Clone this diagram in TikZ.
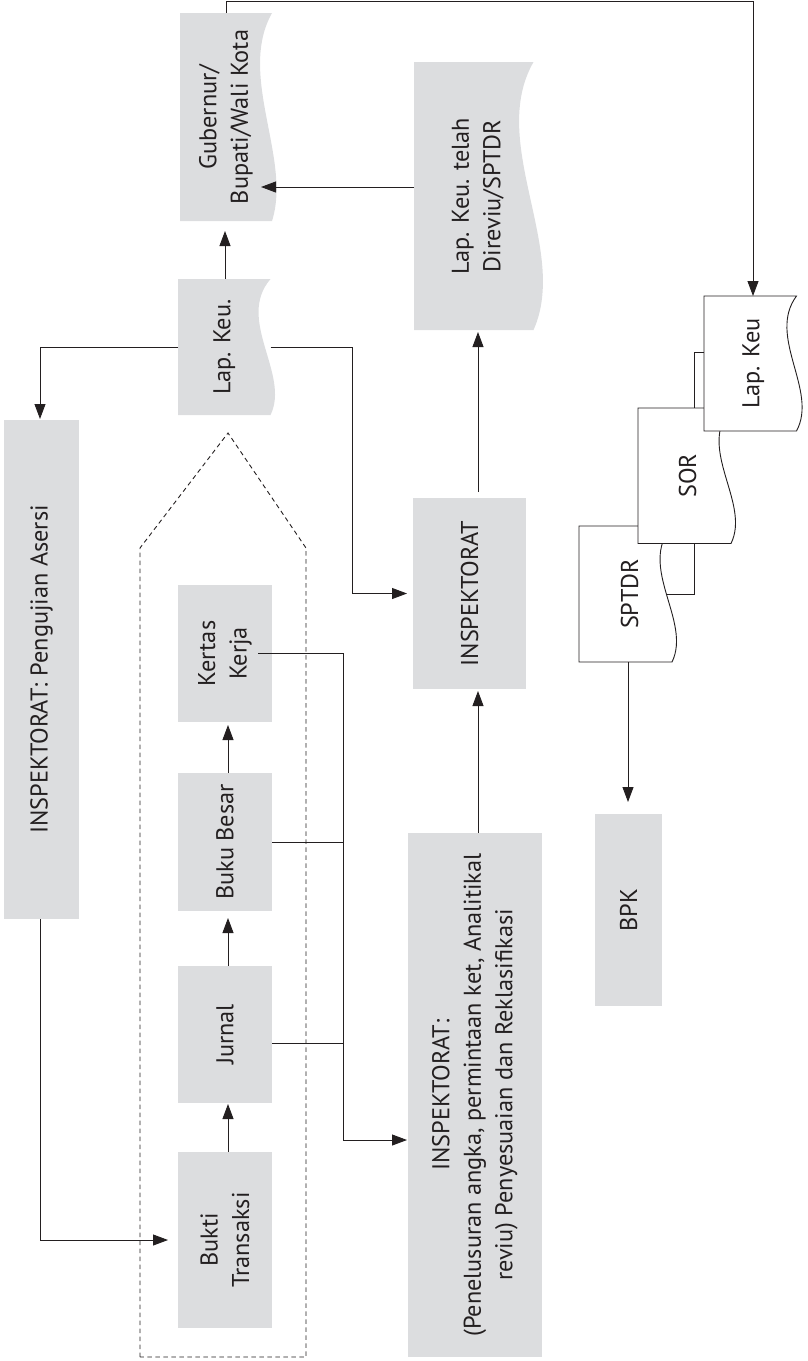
\documentclass[tikz,border=0pt]{standalone}
\usepackage{fontspec}
\setmainfont{PT Sans}
\usetikzlibrary{arrows.meta,calc}
\definecolor{boxgray}{RGB}{220,221,223}
\definecolor{ink}{RGB}{35,31,32}
\newcommand\lblfont{\fontsize{24.3}{31.5}\selectfont}
% #1 style, #2 node, #3 inward pull, #4 outward pull
\newcommand\docshape[4]{%
  \path[#1] (#2.north west) -- (#2.north east)
    .. controls ($(#2.north east)!0.3!(#2.south east)+(-#3,0)$) and ($(#2.north east)!0.7!(#2.south east)+(#4,0)$) ..
    (#2.south east) -- (#2.south west) -- cycle;}
\tikzset{
  frame/.style={rectangle, inner sep=0pt, outer sep=0pt, draw=none},
  gbox/.style={frame, fill=boxgray},
  lbl/.style={rotate=90, align=center, inner sep=0pt, font=\lblfont, text=ink},
  conn/.style={draw=ink, line width=0.9pt},
  arr/.style={conn, -{Triangle[length=15pt,width=11pt]}},
  dashedbox/.style={draw=ink, line width=0.9pt, dash pattern=on 4.5pt off 3.5pt},
  docgray/.style={fill=boxgray},
  docwhite/.style={fill=white, draw=ink, line width=0.9pt},
}
\begin{document}
\begin{tikzpicture}[x=1pt,y=-1pt]
\useasboundingbox (0,0) rectangle (808,1361);

% ---------- frames of document shapes ----------
\node[frame, minimum width=92, minimum height=208] (gub) at (226,117) {};
\node[frame, minimum width=92.5, minimum height=136] (lapk) at (224.25,347) {};
\node[frame, minimum width=119.5, minimum height=268] (lkt) at (473.75,196) {};
\node[frame, minimum width=92.5, minimum height=135] (lk2) at (750.25,363.5) {};
\node[frame, minimum width=93, minimum height=135.5] (sor) at (684.5,475.75) {};
\node[frame, minimum width=93, minimum height=136] (sptdr) at (625.5,594) {};

% ---------- gray boxes ----------
\node[gbox, minimum width=75, minimum height=499] (asersi) at (41.5,669.5) {};
\node[gbox, minimum width=94, minimum height=137] (kertas) at (225,653.5) {};
\node[gbox, minimum width=94, minimum height=138] (buku) at (225,842) {};
\node[gbox, minimum width=94, minimum height=137] (jurnal) at (225,1034.5) {};
\node[gbox, minimum width=94, minimum height=176] (bukti) at (225,1240) {};
\node[gbox, minimum width=113, minimum height=191] (insp) at (469.5,593.5) {};
\node[gbox, minimum width=134, minimum height=524] (pen) at (475,1095) {};
\node[gbox, minimum width=67, minimum height=192] (bpk) at (628.5,910) {};

% ---------- gray documents ----------
\docshape{docgray}{gub}{35}{20}
\docshape{docgray}{lapk}{35}{20}
\docshape{docgray}{lkt}{46}{36}

% ---------- dashed container ----------
\draw[dashedbox] (140,1357) -- (140,548) -- (228,433) -- (306,548) -- (306,1357) -- cycle;

% ---------- stacked documents ----------
\draw[conn] (715,352) -- (694,352) -- (694,594) -- (655,594);
\docshape{docwhite}{sptdr}{35}{20}
\docshape{docwhite}{sor}{35}{20}
\docshape{docwhite}{lk2}{30}{22}

% ---------- labels ----------
\node[lbl] (gubt) at (gub) {Gubernur/\\Bupati/Wali Kota};
\node[lbl] (lapkt) at (lapk) {Lap. Keu.};
\node[lbl] (lktt) at ($(lkt)+(4,0)$) {Lap. Keu. telah\\Direviu/SPTDR};
\node[lbl] (asersit) at (asersi) {INSPEKTORAT: Pengujian Asersi};
\node[lbl] (kertast) at (kertas) {Kertas\\Kerja};
\node[lbl] (bukut) at (buku) {Buku Besar};
\node[lbl] (jurnalt) at (jurnal) {Jurnal};
\node[lbl] (buktit) at (bukti) {Bukti\\Transaksi};
\node[lbl] (inspt) at (insp) {INSPEKTORAT};
\node[lbl] (pent) at (pen) {INSPEKTORAT:\\(Penelusuran angka, permintaan ket, Analitikal\\reviu) Penyesuaian dan Reklasifikasi};
\node[lbl] (bpkt) at (bpk) {BPK};
\node[lbl] (lk2t) at ($(lk2)+(3,0)$) {Lap. Keu};
\node[lbl] (sort) at ($(sor)+(3,0)$) {SOR};
\node[lbl] (sptdrt) at ($(sptdr)+(4,0)$) {SPTDR};

% ---------- connectors ----------
\draw[arr] (gub.north) -- ++(0,-11.3) -| (lk2.north -| 753,0);
\draw[arr, shorten >=-11pt] (lkt.west |- 0,187) -- (gub.east |- 0,187);
\draw[arr, shorten >=10pt] (lapk.north -| 225,0) -- (gub.south -| 225,0);
\draw[arr, shorten >=1pt] (lapk.west) -| (asersi.north -| 40,0);
\draw[arr, shorten >=6pt] (lapk.east) -- (lapk.east -| 352,0) |- (insp.west);
\draw[arr, shorten <=6pt, shorten >=2pt] (insp.north -| 478,0) -- (lkt.south -| 478,0);
\draw[arr, shorten >=2pt] (pen.north -| 478,0) -- (insp.south -| 478,0);
\draw[arr, shorten >=12pt] (sptdr.south -| 628,0) -- (bpk.north -| 628,0);
\draw[arr, shorten >=1pt] ($(kertas.east)+(-14,0)$) -- (kertas.east -| 343,0) |- (pen.west |- 0,1140);
\draw[conn] (buku.east) -- (buku.east -| 343,0);
\draw[conn] (jurnal.east |- 0,1043) -- (343,1043);
\draw[arr, shorten >=10pt] (asersi.south -| 40,0) |- (bukti.west);
\draw[arr, shorten >=1pt] (bukti.north -| 228,0) -- (jurnal.south -| 228,0);
\draw[arr, shorten >=7pt] (jurnal.north -| 228,0) -- (buku.south -| 228,0);
\draw[arr, shorten >=3pt] (buku.north -| 228,0) -- (kertas.south -| 228,0);
\end{tikzpicture}
\end{document}
